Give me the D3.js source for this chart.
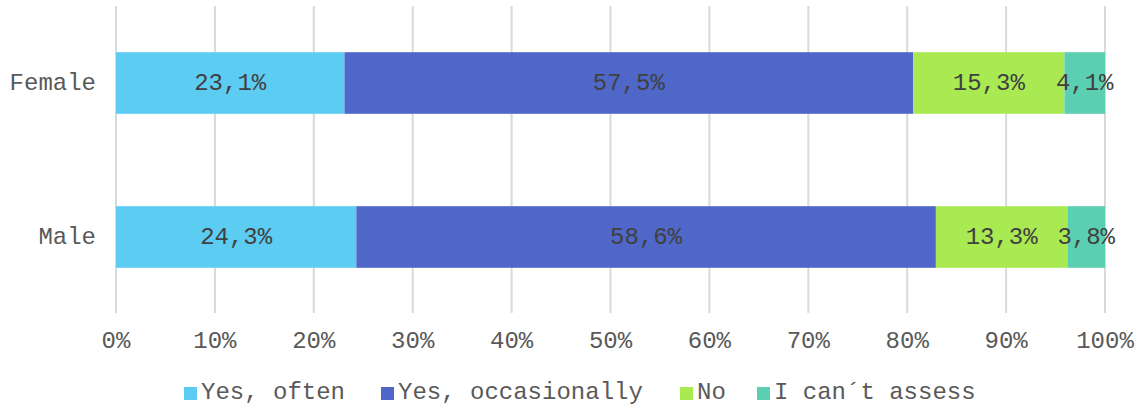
<!DOCTYPE html>
<html><head><meta charset="utf-8">
<script src="https://cdn.jsdelivr.net/npm/d3@7"></script>
<style>body{margin:0;background:#fff}svg{display:block}text{font-family:"Liberation Mono","Courier New",monospace}</style>
</head><body><svg id="c" width="1139" height="408"></svg>
<script>
const categories = ["Female", "Male"];
const seriesNames = ["Yes, often", "Yes, occasionally", "No", "I can´t assess"];
const seriesColors = ["#5DCCF3", "#4F67C8", "#A9EA52", "#5BCFB1"];
const yesOften = [23.1, 24.3];
const yesOccasionally = [57.5, 58.6];
const no = [15.3, 13.3];
const cantAssess = [4.1, 3.8];
const tickValues = [0,10,20,30,40,50,60,70,80,90,100];

const series = [yesOften, yesOccasionally, no, cantAssess];
const svg = d3.select("#c");
const fs = 24;
const x = d3.scaleLinear().domain([0,100]).range([116,1105]);
const y = d3.scaleBand().domain(categories).range([6,314]).paddingInner(0.6).paddingOuter(0.3);

// gridlines
svg.append("g").selectAll("line").data(tickValues).join("line")
  .attr("x1", d=>x(d)).attr("x2", d=>x(d)).attr("y1", 6).attr("y2", 313)
  .attr("stroke", "#d9d9d9").attr("stroke-width", 2);

// bars
categories.forEach((c, ci) => {
  let cum = 0;
  series.forEach((s, si) => {
    const v = s[ci];
    const x0 = cum; cum += v;
    svg.append("rect").attr("x", x(x0)).attr("width", x(Math.min(cum,100)) - x(x0))
      .attr("y", y(c)).attr("height", y.bandwidth()).attr("fill", seriesColors[si]);
    svg.append("text").attr("x", x(x0 + v/2)).attr("y", y(c) + y.bandwidth()/2)
      .attr("text-anchor", "middle").attr("dominant-baseline", "central")
      .attr("font-size", fs).attr("fill", "#404040")
      .text(v.toFixed(1).replace(".", ",") + "%");
  });
});

// category labels
svg.append("g").selectAll("text").data(categories).join("text")
  .attr("x", 96).attr("y", d => y(d) + y.bandwidth()/2)
  .attr("text-anchor", "end").attr("dominant-baseline", "central")
  .attr("font-size", fs).attr("fill", "#595959").text(d => d);

// x axis labels
svg.append("g").selectAll("text").data(tickValues).join("text")
  .attr("x", d => x(d)).attr("y", 341)
  .attr("text-anchor", "middle").attr("dominant-baseline", "central")
  .attr("font-size", fs).attr("fill", "#595959").text(d => d + "%");

// legend
const legendX = [184, 381, 680, 757];
const lg = svg.append("g");
seriesNames.forEach((n, i) => {
  lg.append("rect").attr("x", legendX[i]).attr("y", 387).attr("width", 13).attr("height", 13).attr("fill", seriesColors[i]);
  lg.append("text").attr("x", legendX[i] + 17).attr("y", 392).attr("dominant-baseline", "central")
    .attr("font-size", fs).attr("fill", "#595959").text(n);
});
</script></body></html>
